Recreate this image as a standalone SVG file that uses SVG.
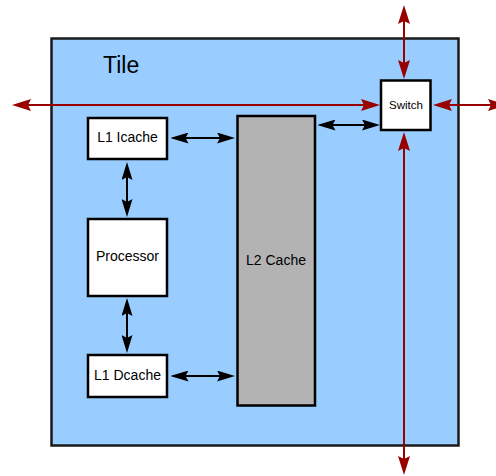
<svg xmlns="http://www.w3.org/2000/svg" width="496" height="476" viewBox="0 0 496 476">
<style>
.box{fill:#ffffff;stroke:#000;stroke-width:2.5}
.lbl{font-family:"Liberation Sans",Arial,sans-serif;font-size:14px;fill:#000;text-anchor:middle}
.red{stroke:#990000;stroke-width:2;fill:none;marker-start:url(#ra);marker-end:url(#ra)}
.blk{stroke:#000;stroke-width:2;fill:none;marker-start:url(#ba);marker-end:url(#ba)}
</style>
<defs>
<marker id="ra" viewBox="0 0 19 12" refX="9" refY="6" markerWidth="19" markerHeight="12" markerUnits="userSpaceOnUse" orient="auto-start-reverse">
<path d="M0,0 L19,6 L0,12 L3,6 Z" fill="#990000"/>
</marker>
<marker id="ba" viewBox="0 0 18 11" refX="9" refY="5.5" markerWidth="18" markerHeight="11" markerUnits="userSpaceOnUse" orient="auto-start-reverse">
<path d="M0,0 L18,5.5 L0,11 L3,5.5 Z" fill="#000"/>
</marker>
</defs>
<g id="tile">
<rect x="51.5" y="38.5" width="407" height="407" fill="#99CCFF" stroke="#1a1a1a" stroke-width="2.5"/>
<text x="103" y="73" style="font-family:'Liberation Sans',Arial,sans-serif;font-size:23px;fill:#000">Tile</text>
</g>
<g id="l2cache">
<rect x="237.5" y="116" width="77.5" height="289.5" fill="#B3B3B3" stroke="#000" stroke-width="2.5"/>
<text class="lbl" x="276" y="265">L2 Cache</text>
</g>
<g id="connectors">
<line class="red" x1="22" y1="105" x2="370" y2="105"/>
<line class="red" x1="443" y1="105" x2="497" y2="105"/>
<line class="red" x1="404" y1="15" x2="404" y2="69"/>
<line class="red" x1="404" y1="142" x2="404" y2="465"/>
<line class="blk" x1="179.5" y1="138" x2="226" y2="138"/>
<line class="blk" x1="326.5" y1="125" x2="371" y2="125"/>
<line class="blk" x1="127" y1="171" x2="127" y2="208"/>
<line class="blk" x1="127" y1="307" x2="127" y2="344"/>
<line class="blk" x1="179.5" y1="376" x2="226" y2="376"/>
</g>
<g id="switch">
<rect class="box" x="381" y="80.5" width="49.5" height="49.5"/>
<text class="lbl" x="406" y="109" style="font-size:11.5px">Switch</text>
</g>
<g id="l1icache">
<rect class="box" x="88" y="118" width="79" height="41"/>
<text class="lbl" x="127.5" y="142">L1 Icache</text>
</g>
<g id="processor">
<rect class="box" x="88" y="219" width="79" height="77"/>
<text class="lbl" x="127.5" y="261">Processor</text>
</g>
<g id="l1dcache">
<rect class="box" x="88" y="355" width="79" height="42"/>
<text class="lbl" x="127.5" y="380">L1 Dcache</text>
</g>
</svg>
